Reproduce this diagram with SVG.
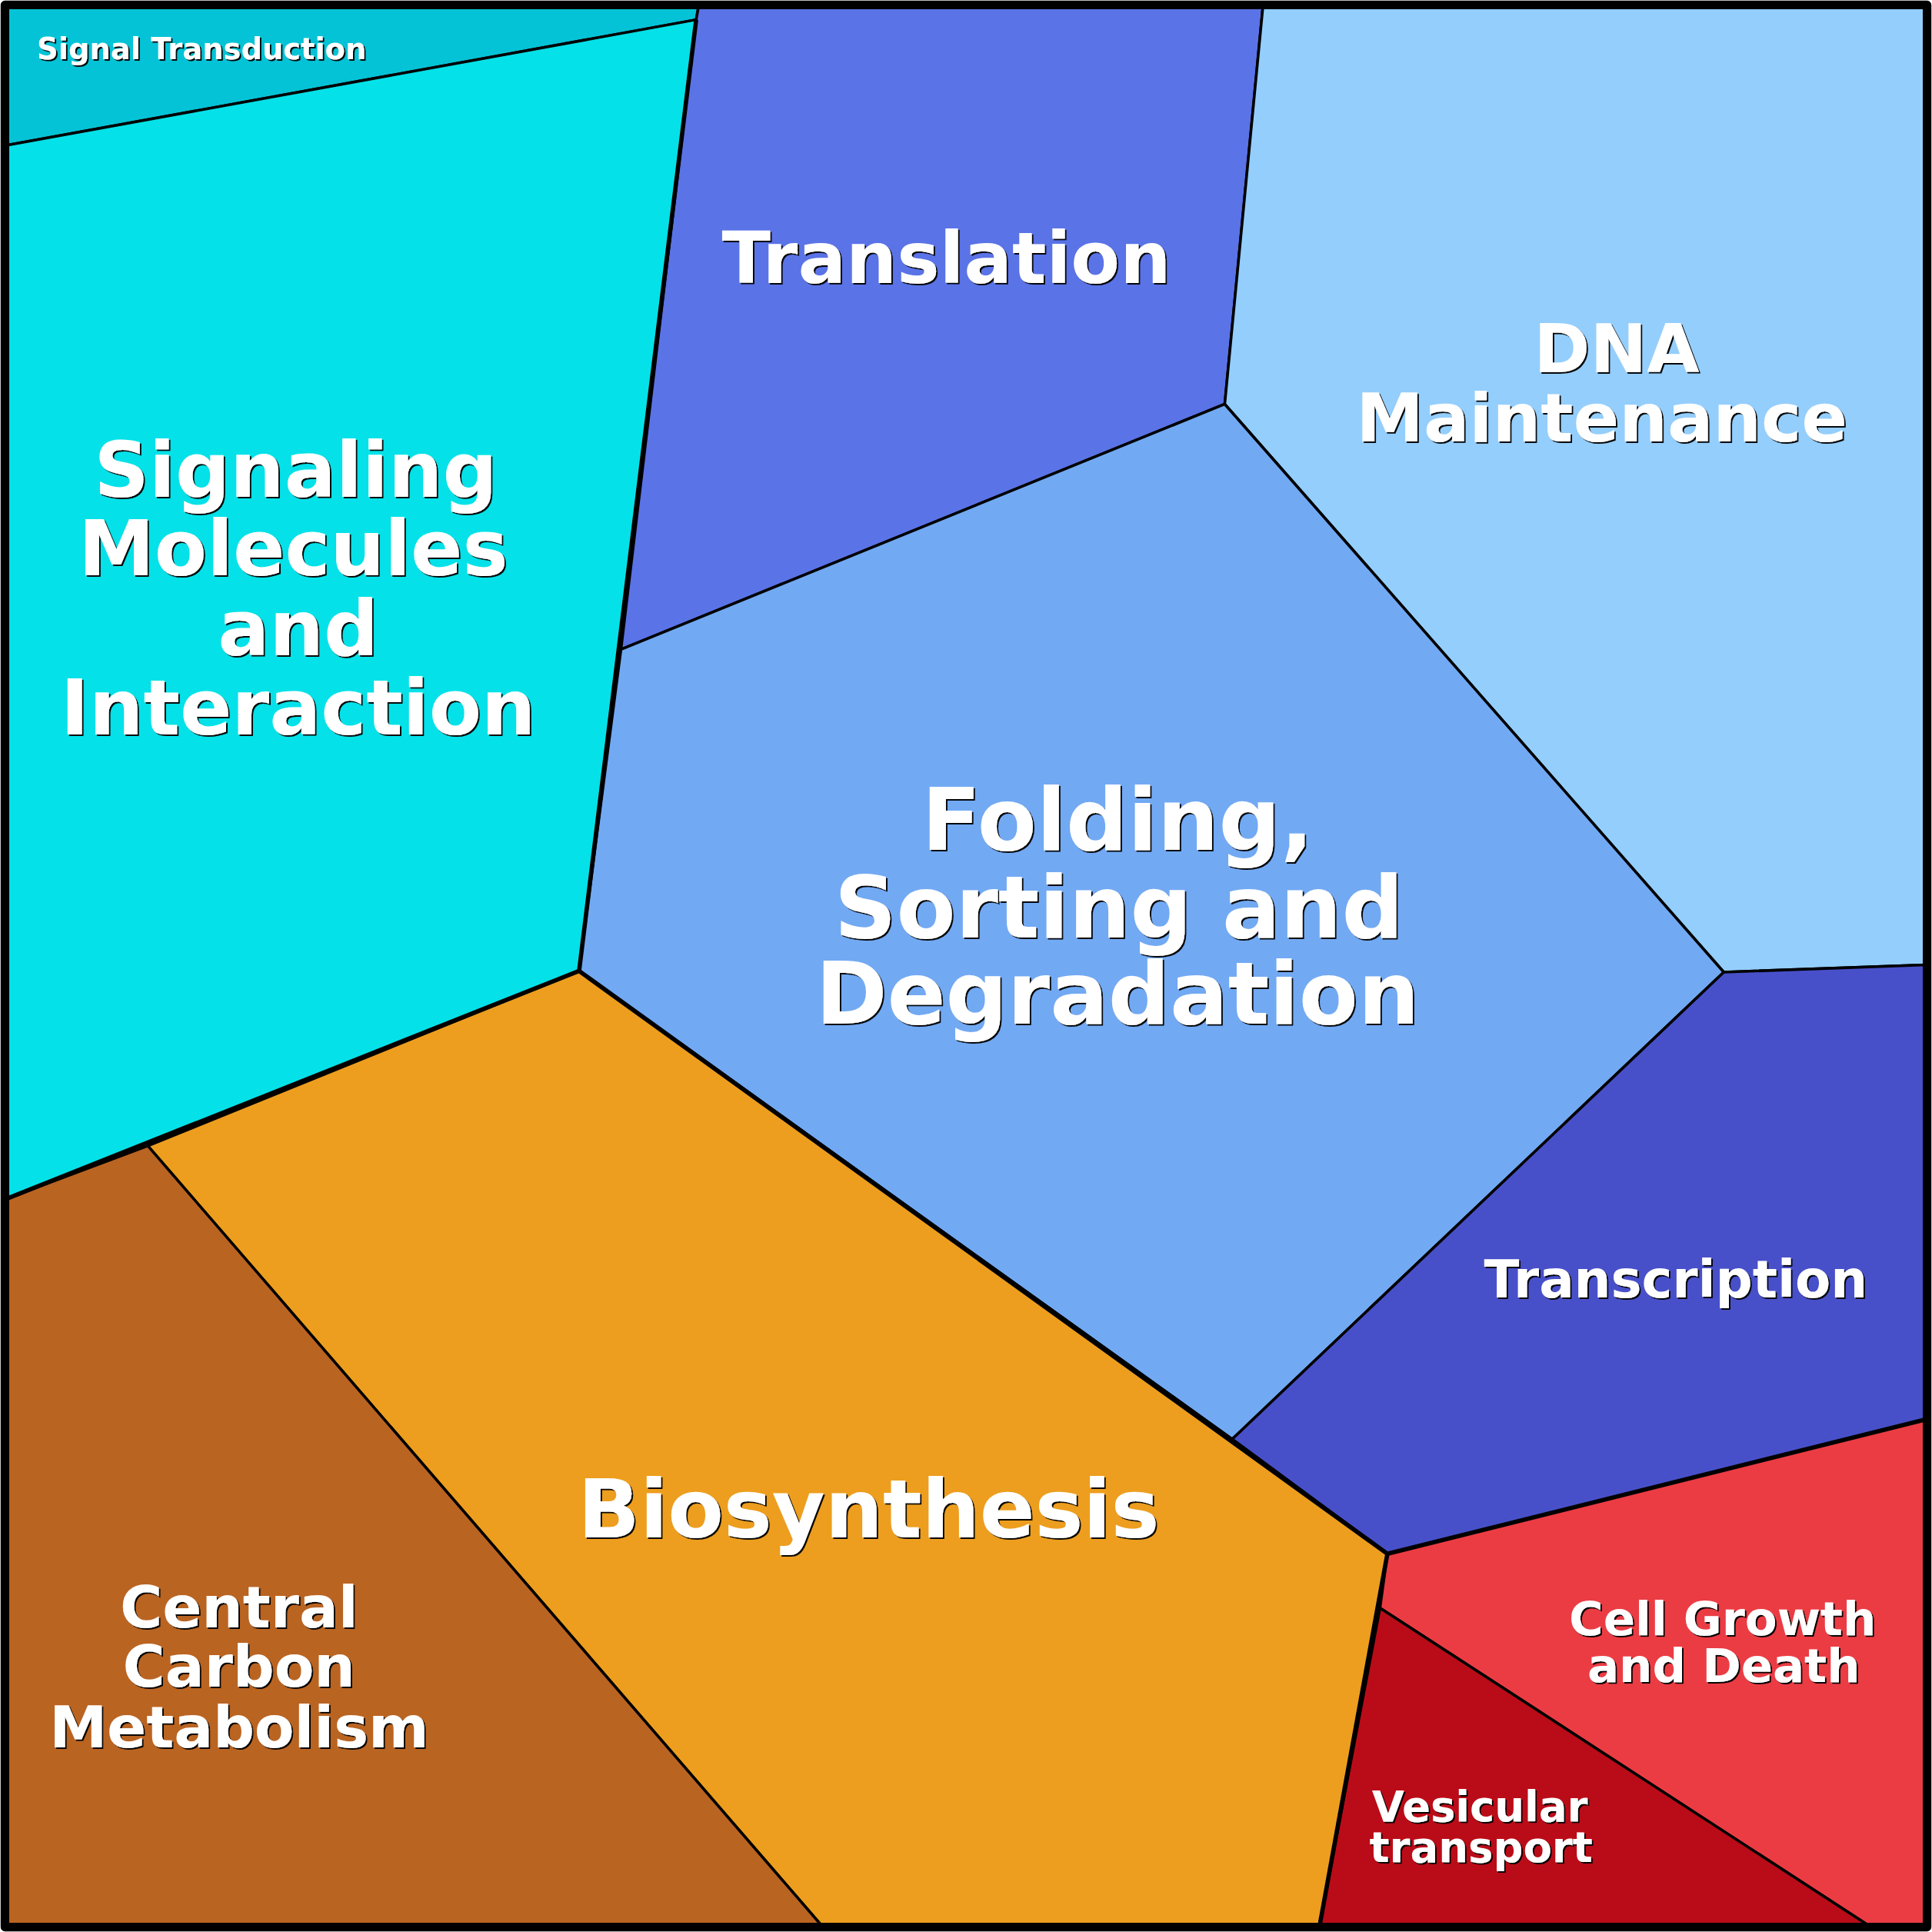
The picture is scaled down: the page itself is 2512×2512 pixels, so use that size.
<svg xmlns="http://www.w3.org/2000/svg" width="2512" height="2512" viewBox="0 0 2512 2512">
<defs>
<style>
.c{stroke:#000;stroke-width:2.2;stroke-linejoin:round}
.t{fill:#fff;font-family:"DejaVu Sans",sans-serif;font-weight:bold;text-anchor:middle;filter:url(#sh)}
</style>
<filter id="sh" x="-10%" y="-10%" width="120%" height="130%"><feDropShadow dx="1.2" dy="1.2" stdDeviation="0.3" flood-color="#000" flood-opacity="1"/></filter>
</defs>
<rect width="2512" height="2512" fill="#fff"/>
<g transform="scale(1.60204)">
<g id="signal-transduction"><polygon class="c" fill="#05c3d6" points="5,5 567,5 565,16 5,118"/><text class="t" x="30" y="48" font-size="24" style="text-anchor:start">Signal Transduction</text></g>
<g id="signaling-molecules"><polygon class="c" fill="#05e1e8" points="5,118 565,16 470,788 120,930 5,973"/><text class="t" font-size="62"><tspan x="240" y="403">Signaling</tspan><tspan x="238" y="467">Molecules</tspan><tspan x="242" y="532">and</tspan><tspan x="242" y="596">Interaction</tspan></text></g>
<g id="translation"><polygon class="c" fill="#5a73e6" points="567,5 1025,5 994,328 504,527 565,16"/><text class="t" x="768" y="230" font-size="58">Translation</text></g>
<g id="dna"><polygon class="c" fill="#94cefd" points="1025,5 1563,5 1563,783 1399,789 994,328"/><text class="t" font-size="55"><tspan x="1312" y="302">DNA</tspan><tspan x="1300" y="358">Maintenance</tspan></text></g>
<g id="folding"><polygon class="c" fill="#72a9f3" points="504,527 994,328 1399,789 1000,1168 470,788"/><text class="t" font-size="70"><tspan x="907" y="690">Folding,</tspan><tspan x="908" y="761">Sorting and</tspan><tspan x="907" y="831">Degradation</tspan></text></g>
<g id="transcription"><polygon class="c" fill="#4850c9" points="1399,789 1563,783 1563,1152 1126,1261 1000,1168"/><text class="t" x="1360" y="1053" font-size="42">Transcription</text></g>
<g id="biosynthesis"><polygon class="c" fill="#ed9e1e" points="470,788 1000,1168 1126,1261 1071,1563 667,1563 120,930"/><text class="t" x="705" y="1248" font-size="66">Biosynthesis</text></g>
<g id="central-carbon"><polygon class="c" fill="#ba6422" points="5,973 120,930 667,1563 5,1563"/><text class="t" font-size="47"><tspan x="194" y="1321">Central</tspan><tspan x="194" y="1369">Carbon</tspan><tspan x="194" y="1418">Metabolism</tspan></text></g>
<g id="cell-growth"><polygon class="c" fill="#eb3c44" points="1126,1261 1563,1152 1563,1563 1517,1563 1120,1305"/><text class="t" font-size="38"><tspan x="1398" y="1327">Cell Growth</tspan><tspan x="1399" y="1365">and Death</tspan></text></g>
<g id="vesicular"><polygon class="c" fill="#ba0c18" points="1120,1305 1517,1563 1071,1563"/><text class="t" font-size="34"><tspan x="1201" y="1478">Vesicular</tspan><tspan x="1202" y="1511">transport</tspan></text></g>
<g id="connectors" fill="none" stroke="#000" stroke-width="3.5" stroke-linejoin="round">
<polyline points="565,16 470,788 5,973"/>
<polyline points="470,788 1126,1261 1563,1152"/>
<polyline points="1126,1261 1071,1563"/>
<rect x="4" y="4" width="1560" height="1560" stroke-width="7"/>
</g>
</g>
</svg>
